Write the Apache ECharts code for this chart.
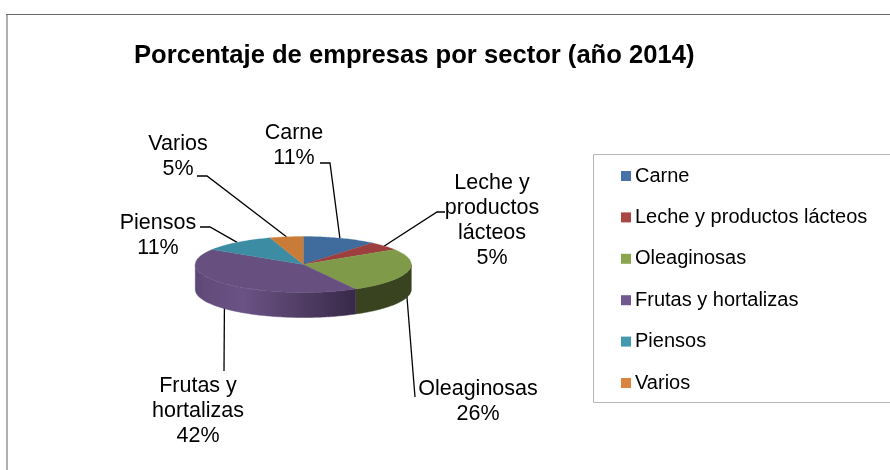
<!DOCTYPE html>
<html><head><meta charset="utf-8">
<script src="https://cdn.jsdelivr.net/npm/echarts@6/dist/echarts.min.js"></script>
<style>html,body{margin:0;padding:0;background:#fff}#c{width:890px;height:470px}</style>
</head><body><div id="c"></div>
<script>
const categories = ['Carne','Leche y productos lácteos','Oleaginosas','Frutas y hortalizas','Piensos','Varios'];
const values = [11,5,26,42,11,5];
const labelTexts = ['Carne','Leche y\nproductos\nlácteos','Oleaginosas','Frutas y\nhortalizas','Piensos','Varios'];
const legendColors = ['#4572a7','#aa4643','#89a54e','#71588f','#4198af','#db843d'];
const topColors = ['#3f6b9d','#9c3f3e','#7f9b49','#67507f','#3c8ca4','#c97b38'];

const FONT = '"Liberation Sans", Arial, sans-serif';
const pie = {cx:303.3, cy:264.5, rx:108, ry:28, depth:25};
// label centre and leader polyline start (text end, elbow) for each slice
const labelLayout = [
  {x:294, y:146, from:[[320,163],[330,163]]},
  {x:492, y:220.5, from:[[445,212],[437,212]]},
  {x:478, y:402, from:[[415,397]], dx:-3},
  {x:198, y:411, from:[[224,371]]},
  {x:158, y:235.5, from:[[200,227],[210,227]]},
  {x:178, y:156.5, from:[[197,176],[207,176]]}
];

const total = values.reduce((a,b)=>a+b,0);
const starts = []; values.reduce((a,v,i)=>{starts[i]=a; return a+v;},0);
const toT = v => v/total*Math.PI*2;
const pt = (t,dy) => [pie.cx+pie.rx*Math.sin(t), pie.cy-pie.ry*Math.cos(t)+(dy||0)];
const arc = (a,b,dy) => {
  const n = Math.max(2,Math.ceil((b-a)/0.02)), out=[];
  for(let i=0;i<=n;i++) out.push(pt(a+(b-a)*i/n,dy));
  return out;
};
const purpleWall = {type:'linear',x:195,y:0,x2:355,y2:0,global:true,colorStops:[
  {offset:0,color:'#5b4673'},{offset:0.06,color:'#634c7c'},{offset:0.3,color:'#6a5285'},
  {offset:0.62,color:'#544068'},{offset:1,color:'#38294a'}]};
const greenWall = '#39431f';
const wallFill = [null,null,greenWall,purpleWall,null,null];

function renderSlice(idx){
  return function(){
    const a = toT(starts[idx]), b = toT(starts[idx]+values[idx]);
    const children = [];
    const wa = Math.max(a,Math.PI/2), wb = Math.min(b,Math.PI*1.5);
    if(wb>wa){
      const fill = wallFill[idx] || topColors[idx];
      children.push({type:'polygon',shape:{points:arc(wa,wb,0).concat(arc(wa,wb,pie.depth).reverse())},
        style:{fill:fill,stroke:fill,lineWidth:0.5}});
    }
    children.push({type:'polygon',shape:{points:[[pie.cx,pie.cy]].concat(arc(a,b,0))},
      style:{fill:topColors[idx],stroke:topColors[idx],lineWidth:0.3}});
    return {type:'group',children};
  };
}
function renderLeader(params,api){
  const i = api.value(0);
  const mid = toT(starts[i]+values[i]/2);
  const l = labelLayout[i];
  const end = pt(mid,0); end[0] += (l.dx||0);
  return {type:'polyline',shape:{points:l.from.concat([end])},
    style:{fill:null,stroke:'#000',lineWidth:1.3}};
}
function renderLabel(params,api){
  const i = api.value(0);
  const l = labelLayout[i];
  return {type:'text',style:{x:l.x,y:l.y,text:labelTexts[i]+'\n'+values[i]+'%',
    font:'21.5px '+FONT,fill:'#000',align:'center',verticalAlign:'middle',lineHeight:25}};
}
const sliceSeries = categories.map((name,i)=>({
  type:'custom',name,coordinateSystem:'none',z:3,silent:true,
  itemStyle:{color:legendColors[i]},data:[[values[i]]],renderItem:renderSlice(i),animation:false
}));
const idxData = categories.map((_,i)=>[i]);

const chart = echarts.init(document.getElementById('c'),null,{renderer:'canvas'});
chart.setOption({
  animation:false,backgroundColor:'#fff',
  title:{text:'Porcentaje de empresas por sector (año 2014)',left:134,top:43,padding:0,
    textStyle:{fontFamily:FONT,fontSize:25.6,fontWeight:'bold',color:'#000'}},
  legend:{orient:'vertical',left:621,top:166,padding:0,itemGap:21.4,itemWidth:10,itemHeight:10,icon:'rect',
    data:categories,selectedMode:false,
    textStyle:{fontFamily:FONT,fontSize:20,color:'#000',padding:[0,0,0,-1],lineHeight:18,height:18}},
  graphic:[
    {type:'line',z:-1,silent:true,shape:{x1:7,y1:14,x2:7,y2:470},style:{stroke:'#b0b0b0',lineWidth:2}},
    {type:'line',z:-1,silent:true,shape:{x1:6,y1:14.5,x2:890,y2:14.5},style:{stroke:'#6a6a6a',lineWidth:1}},
    {type:'rect',z:0,silent:true,shape:{x:593.5,y:154.5,width:320,height:248},style:{fill:'#fff',stroke:'#b5b5b5',lineWidth:1}}
  ],
  series:[
    {type:'custom',name:'leaders',coordinateSystem:'none',z:2,silent:true,data:idxData,renderItem:renderLeader,animation:false},
    ...sliceSeries,
    {type:'custom',name:'labels',coordinateSystem:'none',z:4,silent:true,data:idxData,renderItem:renderLabel,animation:false}
  ]
});
</script></body></html>
